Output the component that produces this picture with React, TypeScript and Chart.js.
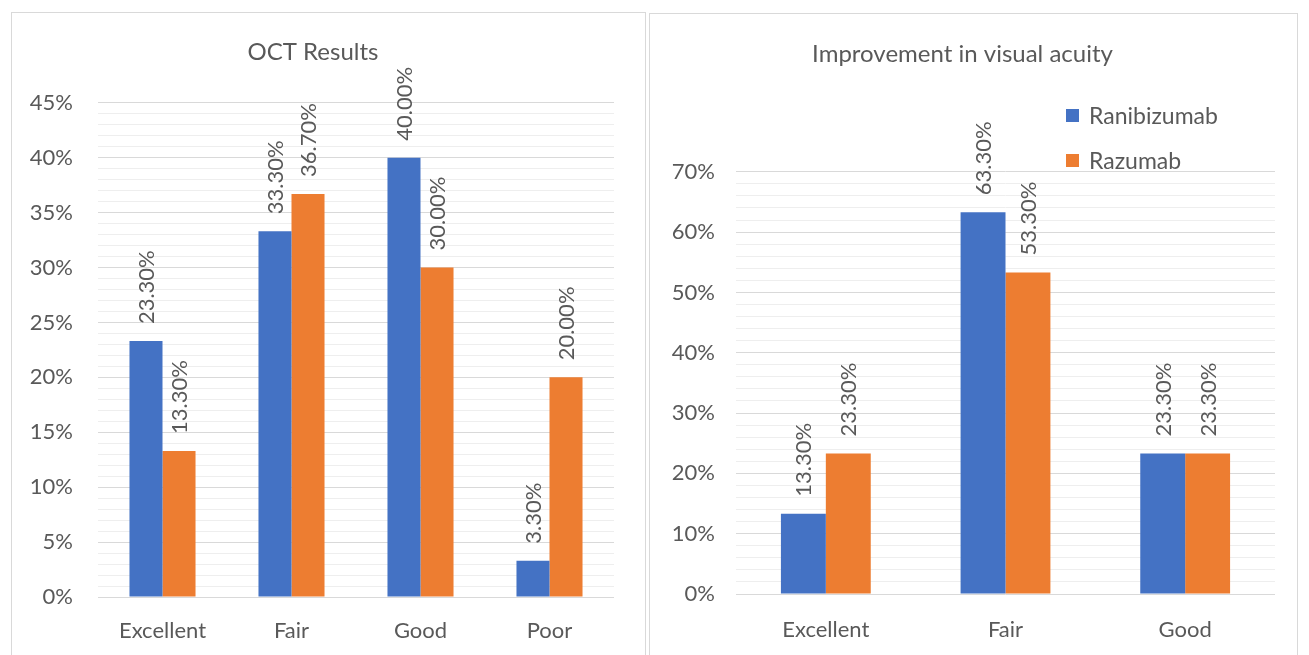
import React, { useEffect, useRef } from "react";
import { Chart, registerables } from "chart.js";

Chart.register(...registerables);

const octCategories = ["Excellent", "Fair", "Good", "Poor"];
const octRanibizumab = [23.3, 33.3, 40.0, 3.3];
const octRazumab = [13.3, 36.7, 30.0, 20.0];
const octTitle = "OCT Results";

const vaCategories = ["Excellent", "Fair", "Good"];
const vaRanibizumab = [13.3, 63.3, 23.3];
const vaRazumab = [23.3, 53.3, 23.3];
const vaTitle = "Improvement in visual acuity";

const seriesNames = ["Ranibizumab", "Razumab"];
const BLUE = "#4472C4";
const ORANGE = "#ED7D31";
const TEXT = "#595959";
const FONT = "Lato, 'Noto Sans', sans-serif";

const labelPlugin = {
  id: "rotLabels",
  afterDatasetsDraw(chart: any) {
    const ctx = chart.ctx;
    ctx.save();
    ctx.fillStyle = TEXT;
    ctx.font = `22px ${FONT}`;
    ctx.textAlign = "left";
    ctx.textBaseline = "middle";
    chart.data.datasets.forEach((ds: any, di: number) => {
      const meta = chart.getDatasetMeta(di);
      meta.data.forEach((bar: any, i: number) => {
        const v = ds.data[i];
        ctx.save();
        ctx.translate(bar.x + 1, bar.y - 17);
        ctx.rotate(-Math.PI / 2);
        ctx.fillText(v.toFixed(2) + "%", 0, 0);
        ctx.restore();
      });
    });
    ctx.restore();
  },
};

function makeConfig(
  categories: string[],
  a: number[],
  b: number[],
  title: string,
  max: number,
  step: number,
  major: number,
  opts: any
) {
  return {
    type: "bar",
    data: {
      labels: categories,
      datasets: [
        { label: seriesNames[0], data: a, backgroundColor: BLUE },
        { label: seriesNames[1], data: b, backgroundColor: ORANGE },
      ],
    },
    options: {
      animation: false,
      responsive: false,
      maintainAspectRatio: false,
      layout: { padding: { left: 0, right: opts.right, top: 0, bottom: 0 } },
      datasets: {
        bar: { categoryPercentage: opts.cat, barPercentage: 1 },
      },
      plugins: {
        legend: { display: false },
        tooltip: { enabled: false },
        title: {
          display: true,
          text: title,
          color: TEXT,
          font: { family: FONT, size: 24, weight: "normal", lineHeight: 1.2 },
          padding: { top: opts.tTop, bottom: opts.tBottom },
        },
      },
      scales: {
        x: {
          grid: { display: false },
          border: { display: false },
          ticks: {
            color: TEXT,
            font: { family: FONT, size: 22 },
            padding: opts.xPad,
          },
          afterFit: (s: any) => {
            s.height = opts.xH;
          },
        },
        y: {
          min: 0,
          max: max,
          border: { display: false },
          grid: {
            drawTicks: false,
            color: (c: any) =>
              c.tick && Math.round(c.tick.value) % major === 0 ? "#d9d9d9" : "#eeeeee",
            lineWidth: 1,
          },
          ticks: {
            stepSize: step,
            autoSkip: false,
            color: TEXT,
            font: { family: FONT, size: 22 },
            padding: opts.yPad,
            callback: (v: any) => (Math.round(v) % major === 0 ? v + "%" : ""),
          },
          afterFit: (s: any) => {
            s.width = 86;
          },
        },
      },
    },
    plugins: [labelPlugin],
  };
}

function ChartBox(props: { config: any; left: number; top: number; width: number; height: number }) {
  const ref = useRef<HTMLCanvasElement>(null);
  useEffect(() => {
    const chart = new Chart(ref.current as HTMLCanvasElement, props.config);
    return () => chart.destroy();
  }, []);
  return (
    <canvas
      ref={ref}
      width={props.width}
      height={props.height}
      style={{
        position: "absolute",
        left: props.left,
        top: props.top,
        width: props.width,
        height: props.height,
      }}
    />
  );
}

export default function App() {
  const leftCfg = makeConfig(octCategories, octRanibizumab, octRazumab, octTitle, 45, 1, 5, {
    right: 31,
    cat: 0.512,
    tTop: 23,
    tBottom: 36,
    xPad: 13,
    xH: 58,
    yPad: 25,
  });
  const rightCfg = makeConfig(vaCategories, vaRanibizumab, vaRazumab, vaTitle, 70, 2, 10, {
    right: 21,
    cat: 0.5,
    tTop: 22,
    tBottom: 103,
    xPad: 15,
    xH: 61,
    yPad: 21,
  });
  const legendItem = (name: string, color: string, top: number) => (
    <div
      style={{
        position: "absolute",
        left: 1066,
        top: top,
        height: 26,
        display: "flex",
        alignItems: "center",
        fontFamily: FONT,
        fontSize: 23,
        color: TEXT,
        whiteSpace: "nowrap",
      }}
    >
      <span style={{ display: "inline-block", width: 13, height: 13, background: color, marginRight: 10 }} />
      <span>{name}</span>
    </div>
  );
  return (
    <div style={{ position: "absolute", left: 0, top: 0, width: 1309, height: 655, overflow: "hidden", background: "#fff" }}>
      <div style={{ position: "absolute", left: 11, top: 12, width: 635, height: 660, border: "1px solid #d9d9d9", boxSizing: "border-box" }} />
      <div style={{ position: "absolute", left: 649, top: 13, width: 649, height: 660, border: "1px solid #d9d9d9", boxSizing: "border-box" }} />
      <ChartBox config={leftCfg} left={12} top={15} width={633} height={640} />
      <ChartBox config={rightCfg} left={650} top={18} width={646} height={637} />
      {legendItem(seriesNames[0], BLUE, 102)}
      {legendItem(seriesNames[1], ORANGE, 147)}
    </div>
  );
}
